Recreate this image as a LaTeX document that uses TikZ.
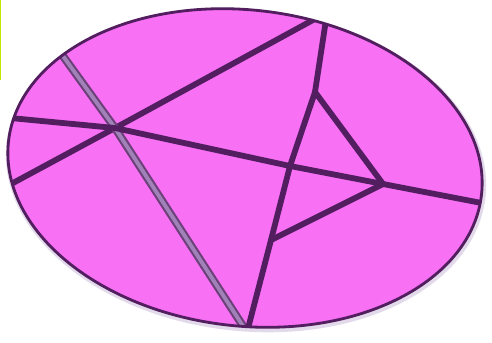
\documentclass[tikz,border=0pt]{standalone}
\usepackage{xcolor}
\usepackage{tikz}

\definecolor{piecepink}{RGB}{248,112,244}
\definecolor{cutpurple}{RGB}{82,30,96}
\definecolor{cutgrey}{RGB}{160,130,185}
\definecolor{edgegreen}{RGB}{196,232,0}

\begin{document}
\begin{tikzpicture}[
  x=0.02cm, y=-0.02cm,
  cut/.style={line width=3.3pt, cutpurple, line cap=round},
  wcut/.style={line width=4.6pt, cutpurple!85, line cap=round},
  core/.style={line width=2.2pt, cutgrey},
  rim/.style={draw=cutpurple, line width=1.6pt}
]
\useasboundingbox (0,0) rectangle (492,342);
\fill[white] (0,0) rectangle (492,342);
\draw[edgegreen, line width=0.8pt] (0.5,0) -- (0.5,80);
% soft shadow round the plate
\fill[cutgrey!30, rotate around={-6.5:(246,170)}] (246,170) ellipse (241 and 161);
\begin{scope}
\clip[rotate around={-6.5:(245,168)}] (245,168) ellipse (238 and 158);
\fill[piecepink] (0,0) rectangle (492,342);
% crossings of the cuts
\coordinate (a) at (115,128);
\coordinate (b) at (290,166);
\coordinate (c) at (383,184);
\coordinate (d) at (315,92);
\coordinate (e) at (271,240);
% ends on the rim
\coordinate (l1s) at (0,190);
\coordinate (l1e) at (335,8);
\coordinate (l2s) at (55,45);
\coordinate (l2e) at (252,340);
\coordinate (l3s) at (0,117);
\coordinate (l3e) at (492,205);
\coordinate (l4s) at (329,0);
\coordinate (l4e) at (245,340);
\draw[cut] (l1s) -- (a) -- (l1e);
\draw[wcut] (l2s) -- (a) -- (l2e);
\draw[core] (l2s) -- (a) -- (l2e);
\draw[cut] (l3s) -- (a) -- (b) -- (c) -- (l3e);
\draw[cut] (l4s) -- (d) -- (b) -- (e) -- (l4e);
\draw[cut] (d) -- (c) -- (e);
\end{scope}
\draw[rim, rotate around={-6.5:(245,168)}] (245,168) ellipse (238 and 158);
\end{tikzpicture}
\end{document}
